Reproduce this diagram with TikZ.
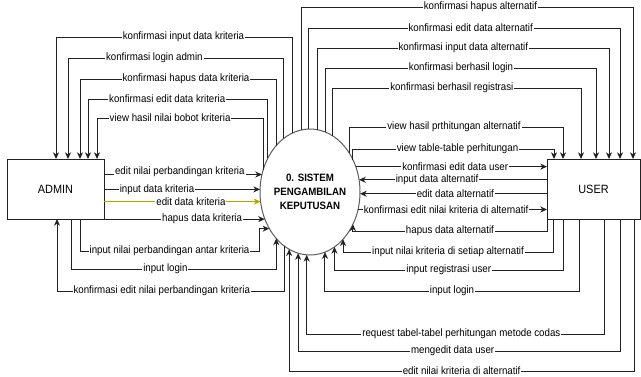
\documentclass[tikz,border=0pt]{standalone}
\usepackage{fontspec}
\setmainfont{Liberation Sans}[FakeStretch=0.91]
\usepackage{tikz}
\usetikzlibrary{arrows.meta,shapes.geometric,calc}
\definecolor{bk90}{HTML}{222222}
\definecolor{bk70}{HTML}{5C5C5C}
\definecolor{oliveline}{HTML}{B3A600}
\tikzset{
  entitybox/.style={
    rectangle, draw=bk90, fill=white, line width=0.75pt,
    minimum width=#1, minimum height=45pt,
    inner sep=0pt, outer sep=0pt,
    font=\fontsize{9}{11}\selectfont
  },
  procnode/.style={
    ellipse, draw=bk70, fill=white, line width=0.75pt,
    minimum width=75pt, minimum height=94.5pt,
    inner xsep=-4pt, inner ysep=0pt, outer sep=0pt, align=center,
    font=\fontsize{8}{10.5}\selectfont\bfseries
  },
  flowarrow/.style={
    -{Stealth[length=5pt, width=4.5pt, inset=1.5pt]}, line width=0.75pt, draw=#1
  },
  flowarrow/.default=bk90,
  flowlabel/.style={fill=white, inner sep=0.7pt, font=\fontsize{8}{9}\selectfont},
}

\begin{document}
\begin{tikzpicture}[x=0.75pt, y=-0.75pt]
  \useasboundingbox (0,0) rectangle (641,376);

  \node[entitybox=72.75pt] (admin) at (55.5,189) {ADMIN};
  \node[entitybox=69.75pt] (user) at (593.5,189) {USER};
  \node[procnode] (sys) at (310,192) {0. SISTEM\\PENGAMBILAN\\KEPUTUSAN};

  % sistem -> admin (over the top)
  \draw[flowarrow] (sys.107) |- node[flowlabel, pos=.73] {konfirmasi input data kriteria} (56,37) -- (admin.north -| 56,0);
  \draw[flowarrow] (sys.116) |- node[flowlabel, pos=.80] {konfirmasi login admin} (68,58) -- (admin.north -| 68,0);
  \draw[flowarrow] (sys.126) |- node[flowlabel, pos=.73] {konfirmasi hapus data kriteria} (80,79) -- (admin.north -| 80,0);
  \draw[flowarrow] (sys.141) |- node[flowlabel, pos=.78] {konfirmasi edit data kriteria} (88,99) -- (admin.north -| 88,0);
  \draw[flowarrow] (sys.155) |- node[flowlabel, pos=.78] {view hasil nilai bobot kriteria} (97,118) -- (admin.north -| 97,0);

  % admin -> sistem
  \draw[flowarrow] (admin.east |- sys.160) -- node[flowlabel, anchor=base, pos=.48] {edit nilai perbandingan kriteria} (sys.160);
  \draw[flowarrow] (admin.east |- sys.177) -- node[flowlabel, pos=.34] {input data kriteria} (sys.177);
  \draw[flowarrow=oliveline] (admin.east |- sys.191) -- node[flowlabel, pos=.555] {edit data kriteria} (sys.191);
  \draw[flowarrow] (admin.east |- sys.211) -- node[flowlabel, pos=.61] {hapus data kriteria} (sys.211);
  \draw[flowarrow] (admin.south -| 80,0) |- node[flowlabel, pos=.75] {input nilai perbandingan antar kriteria} (259,251) |- (sys.222);
  \draw[flowarrow] (admin.south -| 71,0) -- (71,269) -| node[flowlabel, pos=.23] {input login} (sys.234);
  \draw[flowarrow] (sys.245) |- node[flowlabel, pos=.77] {konfirmasi edit nilai perbandingan kriteria} (57,291) -- (admin.south -| 57,0);

  % sistem -> user (over the top)
  \draw[flowarrow] (sys.98) |- node[flowlabel, pos=.77] {konfirmasi hapus alternatif} (633,7) -- (user.north -| 633,0);
  \draw[flowarrow] (sys.91) |- node[flowlabel, pos=.76] {konfirmasi edit data alternatif} (620,28) -- (user.north -| 620,0);
  \draw[flowarrow] (sys.83) |- node[flowlabel, pos=.75] {konfirmasi input data alternatif} (609,48) -- (user.north -| 609,0);
  \draw[flowarrow] (sys.75) |- node[flowlabel, pos=.75] {konfirmasi berhasil login} (596,68) -- (user.north -| 596,0);
  \draw[flowarrow] (sys.68) |- node[flowlabel, pos=.74] {konfirmasi berhasil registrasi} (581,88) -- (user.north -| 581,0);
  \draw[flowarrow] (sys.45) |- node[flowlabel, pos=.745] {view hasil prthitungan alternatif} (563,127) -- (user.north -| 563,0);
  \draw[flowarrow] (sys.37) |- node[flowlabel, pos=.76] {view table-table perhitungan} (554,149) -- (user.north -| 554,0);

  % sistem <-> user, side by side
  \draw[flowarrow] (sys.29) -- node[flowlabel, pos=.52] {konfirmasi edit data user} (sys.29 -| user.west);
  \draw[flowarrow] (user.west |- sys.14) -- node[flowlabel, pos=.585] {input data alternatif} (sys.14);
  \draw[flowarrow] (user.west |- sys.-2) -- node[flowlabel, pos=.49] {edit data alternatif} (sys.-2);
  \draw[flowarrow] (sys.-20) -- node[flowlabel, pos=.466] {konfirmasi edit nilai kriteria di alternatif} (sys.-20 -| user.west);

  % user -> sistem (underneath)
  \draw[flowarrow] (user.south west) -- ++(0,12) -| node[flowlabel, pos=.25] {hapus data alternatif} (sys.-37);
  \draw[flowarrow] (user.south -| 553,0) -- (553,252) -| node[flowlabel, pos=.25] {input nilai kriteria di setiap alternatif} (sys.-55);
  \draw[flowarrow] (user.south -| 563,0) -- (563,270) -| node[flowlabel, pos=.25] {input registrasi user} (sys.-66);
  \draw[flowarrow] (user.south -| 579,0) -- (579,291) -| node[flowlabel, pos=.25] {input login} (sys.-76);
  \draw[flowarrow] (user.south -| 604,0) -- (604,334) -| node[flowlabel, pos=.24] {request tabel-tabel perhitungan metode codas} (sys.-93);
  \draw[flowarrow] (user.south -| 620,0) -- (620,351) -| node[flowlabel, pos=.26] {mengedit data user} (sys.-101);
  \draw[flowarrow] (user.south -| 634,0) -- (634,371) -| node[flowlabel, pos=.25] {edit nilai kriteria di alternatif} (sys.-110);
\end{tikzpicture}
\end{document}
